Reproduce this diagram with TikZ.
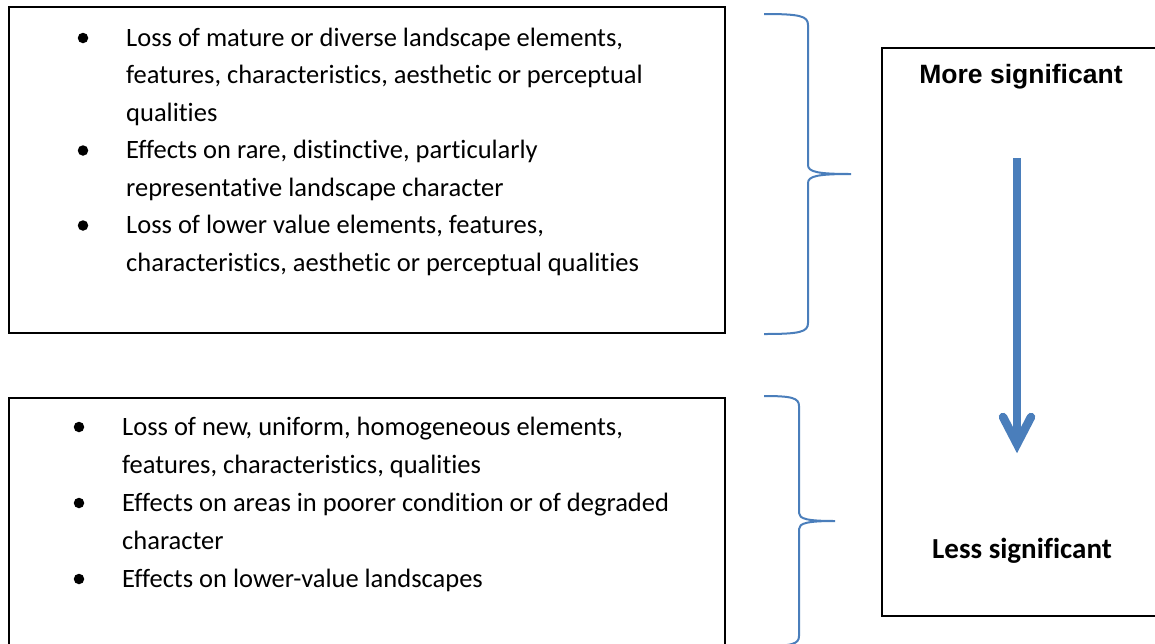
\documentclass[tikz,border=0pt]{standalone}
\usepackage{fontspec}
\setmainfont{Carlito}[Ligatures={NoCommon}, RawFeature={-liga;-clig}]
\newfontfamily\arialfont{Liberation Sans}
\definecolor{wordblue}{HTML}{4A7EBB}
\tikzset{
  txt/.style={anchor=base west, inner sep=0pt, font=\fontsize{26.5}{30}\selectfont},
  bul/.style={circle, fill=black, inner sep=0pt, minimum size=10.5pt},
  frame/.style={draw=black, line width=2pt},
  bracepath/.style={draw=wordblue, line width=2pt},
  bigarrow/.style={draw=wordblue, line width=8.5pt},
}
\begin{document}
\begin{tikzpicture}[x=1pt,y=-1pt]
\useasboundingbox (0,0) rectangle (1155,643);
\clip (0,0) rectangle (1155,643);
% boxes
\draw[frame] (9,7) rectangle (725,333);
\draw[frame] (9,398) rectangle (725,660);
\draw[frame] (882,48) rectangle (1170,616);
% box 1 text
\node[bul] (b1) at (83,38) {};
\node[txt] (l1) at (126,46) {Loss of mature or diverse landscape elements,};
\node[txt] (l2) at (126,83.5) {features, characteristics, aesthetic or perceptual};
\node[txt] (l3) at (126,121) {qualities};
\node[bul] (b2) at (83,150.5) {};
\node[txt] (l4) at (126,158.5) {Effects on rare, distinctive, particularly};
\node[txt] (l5) at (126,196) {representative landscape character};
\node[bul] (b3) at (83,225.5) {};
\node[txt] (l6) at (126,233.5) {Loss of lower value elements, features,};
\node[txt] (l7) at (126,271) {characteristics, aesthetic or perceptual qualities};
% box 2 text
\node[bul] (c1) at (79,427) {};
\node[txt] (m1) at (122,435) {Loss of new, uniform, homogeneous elements,};
\node[txt] (m2) at (122,473) {features, characteristics, qualities};
\node[bul] (c2) at (79,503) {};
\node[txt] (m3) at (122,511) {Effects on areas in poorer condition or of degraded};
\node[txt] (m4) at (122,549) {character};
\node[bul] (c3) at (79,579) {};
\node[txt] (m5) at (122,587) {Effects on lower-value landscapes};
% right box labels
\node[anchor=base, inner sep=0pt, font=\arialfont\bfseries\fontsize{26.5}{30}\selectfont] (more) at (1021,83) {More significant};
\node[anchor=base, inner sep=0pt, font=\bfseries\fontsize{29}{30}\selectfont] (less) at (1022,558) {Less significant};
% arrow
\coordinate (atop) at (1017,158);
\coordinate (ashaft) at (1017,438);
\coordinate (atip) at (1017,444);
\coordinate (wl) at (1003,417);
\coordinate (wr) at (1031,417);
\draw[bigarrow] (atop) -- (ashaft);
\draw[bigarrow, line cap=round, line join=miter, miter limit=10] (wl) -- (atip) -- (wr);
% brace 1
\coordinate (p1a) at (764,14);
\coordinate (p1t) at (851,174);
\coordinate (p1b) at (764,334);
\draw[bracepath] (p1a) .. controls (800,14) and (808,16) .. (808,25)
  -- (808,165) .. controls (808,172) and (818,174) .. (p1t)
  .. controls (818,174) and (808,176) .. (808,183)
  -- (808,323) .. controls (808,332) and (800,334) .. (p1b);
% brace 2
\coordinate (p2a) at (764,396);
\coordinate (p2t) at (835,521);
\coordinate (p2b) at (764,646);
\draw[bracepath] (p2a) .. controls (792,396) and (799,398) .. (799,406)
  -- (799,513) .. controls (799,519) and (808,521) .. (p2t)
  .. controls (808,521) and (799,523) .. (799,529)
  -- (799,636) .. controls (799,644) and (792,646) .. (p2b);
\end{tikzpicture}
\end{document}
